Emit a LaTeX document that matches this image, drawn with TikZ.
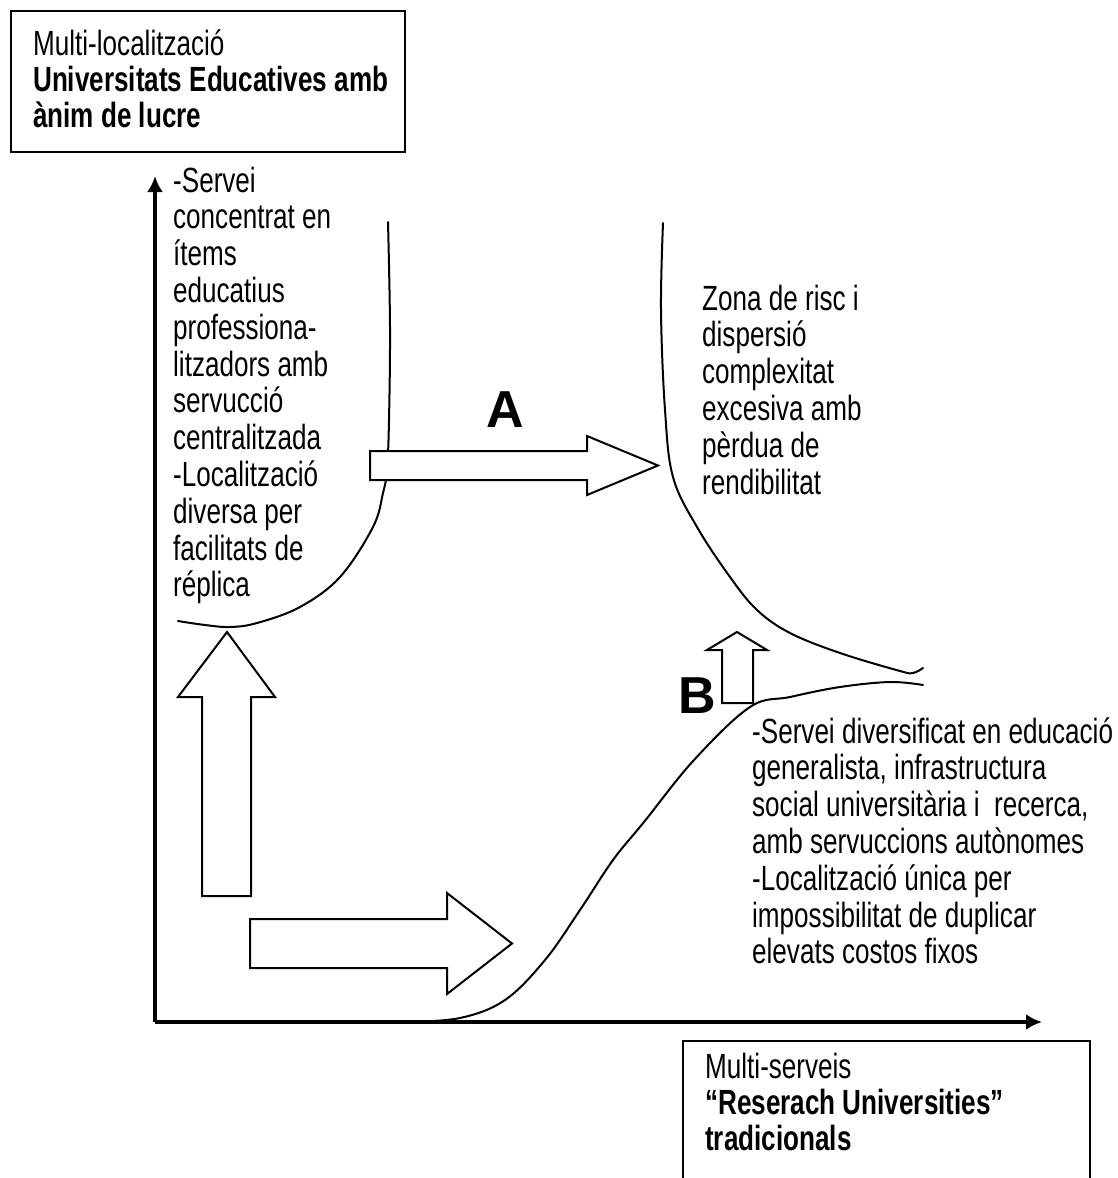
\documentclass[tikz,border=0pt]{standalone}
\usepackage{fontspec}
\setmainfont{Liberation Sans}[FakeStretch=0.745]
\newfontfamily\lblfont{Liberation Sans}
\usetikzlibrary{arrows.meta}
\newcommand\txtcol[1]{\begin{tabular}[t]{@{}l@{}}#1\end{tabular}}

\begin{document}
\begin{tikzpicture}[x=1pt,y=-1pt,
  txt/.style={anchor=base west, inner sep=0pt, font=\fontsize{35}{36.8}\selectfont},
  boxtxt/.style={anchor=base west, inner sep=0pt, font=\fontsize{35}{35.5}\selectfont},
  letter/.style={anchor=base, inner sep=0pt, font=\lblfont\fontsize{52}{52}\selectfont\bfseries},
  frame/.style={draw, line width=2pt},
  curve/.style={draw, line width=2pt, line cap=round},
  blockarr/.style={draw, fill=white, line width=2pt, line join=miter},
  axis/.style={line width=4pt, -{Latex[length=16pt,width=16pt]}}]

\useasboundingbox (0,0) rectangle (1117,1178);
\clip (0,0) rectangle (1117,1178);

% axes
\coordinate (O) at (155,1022);
\coordinate (ytop) at (155,176);
\coordinate (xend) at (1042,1022);
\draw[axis] (O) -- (ytop);
\draw[axis] (O) -- (xend);

% corner boxes
\draw[frame] (11,11) rectangle (405,152);
\node[boxtxt] (ltitle) at (33,55)
  {\txtcol{Multi-localització\\ \textbf{Universitats Educatives amb}\\ \textbf{ànim de lucre}}};
\draw[frame] (683,1041) rectangle (1090,1200);
\node[boxtxt, font=\fontsize{35}{36}\selectfont] (rtitle) at (705,1078)
  {\txtcol{Multi-serveis\\ \textbf{“Reserach Universities”}\\ \textbf{tradicionals}}};

% boundary curves
\draw[curve] plot[smooth, tension=0.6] coordinates {
  (388,222) (390,327) (389,420) (387,470) (383,493) (373,527) (340,577)
  (300,607) (257,623) (230,627) (205,625) (178,621)};
\draw[curve] plot[smooth, tension=0.6] coordinates {
  (663,223) (661,310) (665,410) (673,477) (697,527) (730,577) (757,610)
  (790,633) (840,653) (900,671) (913,673) (923,668)};
\draw[curve] plot[smooth, tension=0.6] coordinates {
  (405,1022) (460,1018) (505,1000) (545,960) (580,910) (613,860) (644,822)
  (694,760) (750,707) (790,697) (840,687) (890,682) (923,685)};

% block arrows
\draw[blockarr] (370,451) -- (587,451) -- (587,436) -- (658,465.5) -- (587,495) -- (587,480) -- (370,480) -- cycle;
\draw[blockarr] (202,896) -- (202,697) -- (178,697) -- (227,632) -- (275,697) -- (251,697) -- (251,896) -- cycle;
\draw[blockarr] (250,919) -- (447,919) -- (447,893) -- (512,943.5) -- (447,994) -- (447,968) -- (250,968) -- cycle;
\draw[blockarr] (722,703) -- (722,650) -- (707,650) -- (737,632) -- (767,650) -- (753,650) -- (753,703) -- cycle;

\node[letter] (lA) at (505,427) {A};
\node[letter] (lB) at (697,713) {B};

% descriptive texts
\node[txt] (left) at (173,192) {\txtcol{-Servei\\ concentrat en\\ ítems\\ educatius\\ professiona-\\ litzadors amb\\ servucció\\ centralitzada\\ -Localització\\ diversa per\\ facilitats de\\ réplica}};
\node[txt] (risk) at (702,310) {\txtcol{Zona de risc i\\ dispersió\\ complexitat\\ excesiva amb\\ pèrdua de\\ rendibilitat}};
\node[txt] (right) at (752,743) {\txtcol{-Servei diversificat en educació\\ generalista, infrastructura\\ social universitària i\ \ recerca,\\ amb servuccions autònomes\\ -Localització única per\\ impossibilitat de duplicar\\ elevats costos fixos}};

\end{tikzpicture}
\end{document}
